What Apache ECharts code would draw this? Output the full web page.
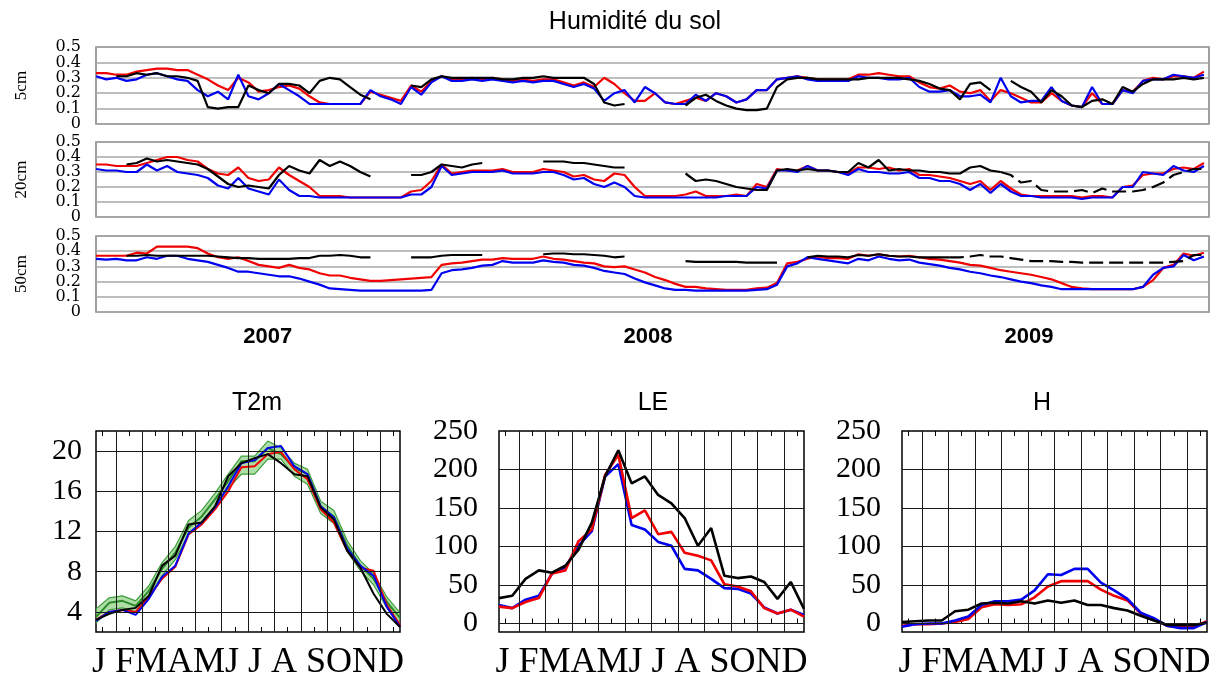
<!DOCTYPE html>
<html>
<head>
<meta charset="utf-8">
<script src="https://cdn.jsdelivr.net/npm/echarts@6/dist/echarts.min.js"></script>
<style>
  html, body { margin: 0; padding: 0; background: #fff; }
  #chart { width: 1221px; height: 682px; }
</style>
</head>
<body>
<div id="chart"></div>
<script>
// ---------- Soil moisture (m3/m3), one sample every 10 days from Jan 2007 ----------
const DAY_STEP = 10;
const DAY_SPAN = 1095;
const depthNames = ['5cm', '20cm', '50cm'];
const moistureLabelsEven = [0, 0.2, 0.4];
const moistureLabelsOdd = [0.1, 0.3, 0.5];
const yearLabels = ['2007', '2008', '2009'];
const yearLabelDays = [169, 543, 918];

const red5 = [
  0.33,0.33,0.32,0.32,0.34,0.35,0.36,0.36,0.35,0.35,
  0.32,0.29,0.25,0.22,0.30,0.27,0.21,0.22,0.24,0.25,
  0.23,0.18,0.14,0.13,0.13,0.13,0.13,0.21,0.19,0.17,
  0.15,0.25,
  0.21,0.28,0.31,0.29,0.29,0.30,0.29,0.30,0.29,0.28,
  0.29,0.28,0.29,0.29,0.27,0.25,0.27,0.24,0.30,0.26,
  0.20,0.15,0.15,0.20,0.14,0.13,0.15,0.17,0.15,0.20,
  0.18,0.14,0.16,0.22,0.22,0.29,0.30,0.31,0.30,
  0.29,0.29,0.29,0.29,0.32,0.32,0.33,0.32,0.31,0.31,
  0.27,0.24,0.23,0.25,0.21,0.20,0.22,0.15,0.22,0.20,
  0.17,0.14,0.14,0.20,0.15,0.12,0.11,0.20,0.13,0.13,
  0.22,0.21,0.28,0.30,0.29,0.31,0.31,0.30,0.34
];
const blue5 = [
  0.31,0.29,0.30,0.28,0.29,0.32,0.33,0.31,0.29,0.28,
  0.22,0.18,0.21,0.16,0.32,0.18,0.16,0.20,0.26,0.22,
  0.18,0.13,0.13,0.13,0.13,0.13,0.13,0.22,0.18,0.16,
  0.13,0.24,
  0.19,0.27,0.31,0.28,0.28,0.29,0.28,0.29,0.28,0.27,
  0.28,0.27,0.28,0.28,0.26,0.24,0.26,0.23,0.15,0.20,
  0.22,0.14,0.24,0.20,0.14,0.13,0.13,0.19,0.15,0.20,
  0.18,0.14,0.16,0.22,0.22,0.29,0.30,0.31,0.29,
  0.28,0.28,0.28,0.28,0.31,0.30,0.30,0.29,0.29,0.30,
  0.24,0.21,0.21,0.22,0.18,0.18,0.19,0.14,0.30,0.18,
  0.14,0.15,0.15,0.24,0.15,0.12,0.11,0.24,0.13,0.13,
  0.22,0.20,0.28,0.29,0.29,0.32,0.31,0.30,0.32
];
const black5 = [
  null,null,0.31,0.31,0.33,0.32,0.33,0.31,0.31,0.30,
  0.28,0.11,0.10,0.11,0.11,0.25,0.22,0.20,0.26,0.26,
  0.25,0.20,0.28,0.30,0.29,0.24,0.19,0.16,null,null,
  null,0.25,
  0.24,0.29,0.31,0.30,0.30,0.30,0.30,0.30,0.29,0.29,
  0.30,0.30,0.31,0.30,0.30,0.30,0.30,0.26,0.14,0.12,
  0.13,null,null,null,null,null,0.12,0.17,0.19,0.15,
  0.12,0.10,0.09,0.09,0.10,0.24,0.29,0.30,0.30,
  0.29,0.29,0.29,0.29,0.29,0.30,0.30,0.30,0.30,0.29,
  0.28,0.26,0.23,0.22,0.16,0.26,0.27,0.22,null,0.28,
  0.24,0.21,0.14,0.22,0.18,0.12,0.11,0.15,0.16,0.13,
  0.24,0.21,0.26,0.29,0.29,0.29,0.30,0.29,0.30
];

const red20 = [
  0.35,0.35,0.34,0.34,0.34,0.36,0.38,0.40,0.40,0.38,
  0.37,0.32,0.29,0.28,0.33,0.26,0.24,0.25,0.33,0.28,
  0.24,0.20,0.14,0.14,0.14,0.13,0.13,0.13,0.13,0.13,
  0.13,0.17,
  0.18,0.24,0.35,0.29,0.30,0.31,0.31,0.31,0.32,0.30,
  0.30,0.30,0.32,0.31,0.30,0.27,0.28,0.25,0.24,0.29,
  0.28,0.20,0.14,0.14,0.14,0.14,0.15,0.17,0.14,0.14,
  0.14,0.15,0.14,0.22,0.20,0.32,0.31,0.31,0.34,
  0.31,0.31,0.30,0.29,0.33,0.33,0.32,0.33,0.31,0.32,
  0.28,0.28,0.27,0.26,0.24,0.22,0.24,0.18,0.24,0.19,
  0.15,0.14,0.14,0.14,0.14,0.14,0.13,0.14,0.14,0.13,
  0.20,0.21,0.28,0.29,0.29,0.32,0.33,0.32,0.36
];
const blue20 = [
  0.32,0.31,0.31,0.30,0.30,0.35,0.31,0.34,0.30,0.29,
  0.28,0.26,0.21,0.19,0.26,0.19,0.17,0.15,0.25,0.18,
  0.14,0.14,0.13,0.13,0.13,0.13,0.13,0.13,0.13,0.13,
  0.13,0.15,
  0.15,0.20,0.34,0.28,0.29,0.30,0.30,0.30,0.31,0.29,
  0.29,0.29,0.30,0.30,0.28,0.25,0.26,0.22,0.20,0.23,
  0.20,0.14,0.13,0.13,0.13,0.13,0.13,0.13,0.13,0.13,
  0.14,0.14,0.14,0.20,0.19,0.31,0.31,0.30,0.34,
  0.31,0.31,0.30,0.28,0.32,0.30,0.30,0.29,0.29,0.30,
  0.26,0.26,0.24,0.24,0.22,0.18,0.22,0.16,0.22,0.17,
  0.14,0.14,0.13,0.13,0.13,0.13,0.12,0.13,0.13,0.13,
  0.20,0.20,0.30,0.29,0.28,0.34,0.31,0.30,0.34
];
const black20 = [
  null,null,null,0.35,0.36,0.39,0.37,0.38,0.37,0.36,
  0.35,0.32,0.27,0.22,0.20,0.21,0.20,0.19,0.28,0.34,
  0.31,0.29,0.38,0.34,0.37,0.34,0.30,0.27,null,null,
  null,0.28,
  0.28,0.30,0.35,0.34,0.33,0.35,0.36,null,null,null,
  null,null,0.37,0.37,0.37,0.36,0.36,0.35,0.34,0.33,
  0.33,null,null,null,null,null,0.29,0.24,0.25,0.24,
  0.22,0.20,0.19,0.18,0.18,0.31,0.32,0.31,0.32,
  0.31,0.31,0.30,0.30,0.36,0.33,0.38,0.31,0.32,0.31,
  0.31,0.30,0.30,0.29,0.29,0.33,0.34,0.31,0.30,0.28,
  0.23,0.24,0.18,0.17,0.17,0.17,0.18,0.16,0.19,0.17,
  0.17,0.17,0.18,0.20,0.23,0.28,0.30,0.32,0.32
];

const red50 = [
  0.37,0.37,0.37,0.37,0.39,0.385,0.43,0.43,0.43,0.43,
  0.42,0.385,0.36,0.35,0.36,0.335,0.31,0.30,0.29,0.31,
  0.29,0.28,0.255,0.24,0.24,0.225,0.215,0.205,0.205,0.21,
  0.215,0.22,
  0.225,0.23,0.31,0.32,0.325,0.335,0.345,0.345,0.355,0.35,
  0.35,0.35,0.365,0.35,0.345,0.335,0.325,0.32,0.30,0.295,
  0.30,0.28,0.26,0.23,0.21,0.185,0.165,0.165,0.155,0.15,
  0.145,0.145,0.145,0.155,0.16,0.19,0.32,0.33,0.35,
  0.365,0.355,0.355,0.35,0.38,0.37,0.38,0.37,0.365,0.37,
  0.36,0.35,0.345,0.335,0.325,0.31,0.305,0.29,0.275,0.265,
  0.255,0.245,0.23,0.215,0.19,0.165,0.155,0.15,0.15,0.15,
  0.15,0.15,0.165,0.21,0.29,0.31,0.385,0.37,0.39
];
const blue50 = [
  0.35,0.345,0.35,0.34,0.34,0.36,0.35,0.37,0.37,0.35,
  0.34,0.33,0.31,0.29,0.265,0.265,0.255,0.245,0.235,0.235,
  0.22,0.20,0.18,0.155,0.15,0.145,0.14,0.14,0.14,0.14,
  0.14,0.14,
  0.14,0.145,0.255,0.275,0.28,0.29,0.305,0.31,0.335,0.325,
  0.325,0.325,0.34,0.33,0.325,0.31,0.305,0.29,0.27,0.26,
  0.25,0.22,0.195,0.175,0.155,0.145,0.145,0.14,0.14,0.14,
  0.14,0.14,0.14,0.145,0.15,0.18,0.30,0.32,0.36,
  0.35,0.34,0.33,0.32,0.35,0.34,0.365,0.35,0.34,0.345,
  0.325,0.315,0.305,0.29,0.28,0.265,0.255,0.24,0.23,0.215,
  0.20,0.19,0.175,0.165,0.15,0.15,0.15,0.15,0.15,0.15,
  0.15,0.15,0.165,0.245,0.29,0.30,0.375,0.34,0.365
];
const black50 = [
  null,null,null,0.37,0.37,0.375,0.37,0.37,0.37,0.37,
  0.37,0.37,0.365,0.36,0.355,0.355,0.35,0.35,0.35,0.35,
  0.355,0.355,0.37,0.37,0.375,0.37,0.36,0.36,null,null,
  null,0.36,
  0.36,0.36,0.37,0.375,0.375,0.375,0.375,null,null,null,
  null,null,0.38,0.385,0.385,0.38,0.38,0.375,0.37,0.36,
  0.365,null,null,null,null,null,0.335,0.33,0.33,0.33,
  0.33,0.33,0.325,0.325,0.325,0.325,null,null,0.36,
  0.37,0.365,0.365,0.36,0.375,0.37,0.38,0.37,0.365,0.365,
  0.36,0.36,0.36,0.36,0.36,0.365,0.375,0.365,0.365,0.355,
  0.345,0.335,0.335,0.335,0.33,0.33,0.325,0.325,0.325,0.325,
  0.325,0.325,0.325,0.325,0.325,0.33,0.335,0.375,0.375
];
// sample index from which the observed series is drawn dashed (2009 records)
const dashFrom = [null, 89, 84];

// ---------- Seasonal cycles, 24 half-month means ----------
const monthLetters = 'J FMAMJ J A SOND';
const monthEdges = [1.5, 3.5, 5.5, 7.5, 9.5, 11.5, 13.5, 15.5, 17.5, 19.5, 21.5];
const midMonthTicks = [0.5, 2.5, 4.5, 6.5, 8.5, 10.5, 12.5, 14.5, 16.5, 18.5, 20.5, 22.5];
const t2mTicks = [4, 8, 12, 16, 20];
const fluxTicks = [0, 50, 100, 150, 200, 250];

const t2mObs  = [3.2,3.8,4.2,4.4,5.6,8.6,9.6,12.7,12.9,14.5,17.5,18.8,19.3,19.7,18.8,17.7,17.5,14.4,13.2,10.1,8.4,5.8,3.8,2.5];
const t2mRed  = [3.2,4.0,4.2,4.0,5.5,7.3,8.5,11.7,12.7,14.2,16.0,18.4,18.5,19.7,19.9,18.2,17.2,14.2,12.9,10.1,8.4,8.1,4.7,2.7];
const t2mBlue = [3.1,4.0,4.2,3.7,5.3,7.5,8.6,11.8,12.9,14.4,16.5,18.8,19.1,20.3,20.5,18.5,17.7,14.5,13.4,10.3,8.6,7.6,4.5,2.5];
const t2mEns  = [3.5,4.9,5.1,4.6,6.1,8.3,9.9,12.4,13.5,15.2,17.0,19.0,19.0,20.3,19.7,18.3,17.7,14.5,13.5,10.6,8.6,7.3,5.0,3.4];
const t2mEnsLow  = [2.9,4.2,4.4,4.0,5.5,7.6,9.2,11.7,12.9,14.5,16.3,17.7,17.7,19.2,19.2,17.5,16.7,13.8,12.8,10.0,8.1,6.7,4.4,2.8];
const t2mEnsHigh = [4.3,5.4,5.6,5.1,6.6,8.9,10.5,13.1,14.1,15.8,17.7,19.5,19.5,21.0,20.3,18.8,18.2,15.0,14.1,11.1,9.1,7.8,5.5,3.9];

const leObs  = [33,36,58,69,66,75,96,131,191,225,182,191,167,156,137,101,124,62,59,61,54,32,54,19];
const leRed  = [22,20,28,33,65,69,107,122,193,219,137,147,116,119,92,88,82,51,48,42,20,13,18,9];
const leBlue = [24,20,31,36,65,73,101,120,191,207,128,122,106,101,71,69,58,46,45,39,21,13,18,11];

const hObs  = [2,3,4,4,16,18,26,27,26,29,26,30,27,30,24,24,20,17,10,4,-2,-2,-2,1];
const hRed  = [-3,-1,-1,0,2,6,21,25,24,25,34,48,55,55,55,44,36,30,13,6,-3,-5,-4,3];
const hBlue = [-4,-1,0,0,4,9,24,29,29,31,43,64,63,71,71,53,43,32,14,7,-3,-6,-6,2];

// ---------- helpers ----------
const RED = '#f00000', BLUE = '#0000f0', BLACK = '#000000';
const byDay = arr => arr.map((v, i) => [i * DAY_STEP, v]);
const byHalfMonth = arr => arr.map((v, i) => [i, v]);
const keepBefore = (arr, k) => arr.map((v, i) => (i <= k ? v : null));
const keepFrom = (arr, k) => arr.map((v, i) => (i >= k ? v : null));

function lineSeries(name, data, color, width, axis, extra) {
  return Object.assign({
    name, type: 'line', data, xAxisIndex: axis, yAxisIndex: axis,
    showSymbol: false, symbol: 'none', connectNulls: false,
    lineStyle: { color, width }, itemStyle: { color },
    silent: true, animation: false
  }, extra || {});
}

// ---------- layout ----------
const topGrids = [
  { left: 96, right: 12, top: 47, height: 77 },
  { left: 96, right: 12, top: 142, height: 75 },
  { left: 96, right: 12, top: 236, height: 76 }
];
const bottomGrids = [
  { left: 96, width: 304, top: 431, height: 202 },
  { left: 499, width: 305, top: 431, height: 202 },
  { left: 902, width: 305, top: 431, height: 202 }
];
const grids = [
  ...topGrids.map(g => Object.assign({ show: true, borderColor: '#808080', borderWidth: 1.5, backgroundColor: 'transparent' }, g)),
  ...bottomGrids.map(g => Object.assign({ show: true, borderColor: '#000', borderWidth: 1.5, backgroundColor: 'transparent' }, g))
];

const moistLabelStyle = { fontFamily: 'DejaVu Serif', fontSize: 16, color: '#000', margin: 15 };

const xAxes = [];
const yAxes = [];
topGrids.forEach((g, i) => {
  xAxes.push({
    gridIndex: i, type: 'value', min: 0, max: DAY_SPAN,
    axisLine: { show: false }, axisTick: { show: false }, splitLine: { show: false },
    axisLabel: i === 2 ? {
      show: true, customValues: yearLabelDays, margin: 14,
      formatter: v => yearLabels[yearLabelDays.indexOf(v)],
      fontFamily: 'Liberation Sans', fontWeight: 'bold', fontSize: 22, color: '#000'
    } : { show: false }
  });
  yAxes.push({
    gridIndex: i, type: 'value', min: 0, max: 0.5, interval: 0.1,
    axisLine: { show: false }, axisTick: { show: false },
    axisLabel: Object.assign({ customValues: moistureLabelsEven }, moistLabelStyle),
    splitLine: { show: true, lineStyle: { color: '#a8a8a8', width: 1.5 } },
    name: depthNames[i], nameLocation: 'middle', nameRotate: 90, nameGap: 66,
    nameTextStyle: { fontFamily: 'Liberation Serif', fontSize: 17, color: '#000' }
  });
});
bottomGrids.forEach((g, j) => {
  xAxes.push({
    gridIndex: 3 + j, type: 'value', min: 0, max: 23,
    axisLine: { show: false },
    axisTick: { show: true, inside: true, length: 5, customValues: midMonthTicks, lineStyle: { color: '#000', width: 1 } },
    axisLabel: { show: false }, splitLine: { show: false },
    name: monthLetters, nameLocation: 'middle', nameGap: 13,
    nameTextStyle: { fontFamily: 'Liberation Serif', fontSize: 36, color: '#000', verticalAlign: 'top' }
  });
  const isT = j === 0;
  yAxes.push({
    gridIndex: 3 + j, type: 'value', min: isT ? 2 : -11, max: isT ? 22 : 250,
    axisLine: { show: false }, axisTick: { show: false }, splitLine: { show: false },
    axisLabel: {
      customValues: isT ? t2mTicks : fluxTicks, margin: isT ? 14 : 21,
      fontFamily: 'Liberation Serif', fontSize: 30, color: '#000'
    }
  });
});
bottomGrids.forEach((g, j) => {
  xAxes.push({
    gridIndex: 3 + j, type: 'value', min: 0, max: 23, position: 'top',
    axisLine: { show: false },
    axisTick: { show: true, inside: true, length: 5, customValues: midMonthTicks, lineStyle: { color: '#000', width: 1 } },
    axisLabel: { show: false }, splitLine: { show: false }
  });
});
// second label axis per moisture panel carrying the odd tenths
topGrids.forEach((g, i) => {
  yAxes.push({
    gridIndex: i, type: 'value', min: 0, max: 0.5, interval: 0.1, position: 'left',
    axisLine: { show: false }, axisTick: { show: false }, splitLine: { show: false },
    axisLabel: Object.assign({ customValues: moistureLabelsOdd }, moistLabelStyle)
  });
});

// ---------- series ----------
const series = [];
const depthData = [
  [red5, blue5, black5],
  [red20, blue20, black20],
  [red50, blue50, black50]
];
depthData.forEach(([r, b, k], i) => {
  series.push(lineSeries('modèle A ' + depthNames[i], byDay(r), RED, 2.2, i));
  series.push(lineSeries('modèle B ' + depthNames[i], byDay(b), BLUE, 2.2, i));
  if (dashFrom[i] === null) {
    series.push(lineSeries('obs ' + depthNames[i], byDay(k), BLACK, 2.2, i));
  } else {
    series.push(lineSeries('obs ' + depthNames[i], byDay(keepBefore(k, dashFrom[i])), BLACK, 2.2, i));
    series.push(lineSeries('obs ' + depthNames[i] + ' (2009)', byDay(keepFrom(k, dashFrom[i])), BLACK, 2.2, i,
      { lineStyle: { color: BLACK, width: 2.2, type: [14, 6] } }));
  }
});

function gridLines(yTicks) {
  return {
    silent: true, symbol: 'none', animation: false,
    label: { show: false },
    lineStyle: { color: '#1a1a1a', width: 1, type: 'solid' },
    data: [...monthEdges.map(x => ({ xAxis: x })), ...yTicks.map(y => ({ yAxis: y }))]
  };
}

// T2m: ensemble spread band drawn as one polygon through the axis scales
series.push({
  name: 'enveloppe', type: 'custom', xAxisIndex: 3, yAxisIndex: 3,
  data: [[0, t2mEnsLow[0]]], silent: true, animation: false, z: 1,
  renderItem: (params, api) => {
    const pts = [];
    t2mEnsHigh.forEach((v, i) => pts.push(api.coord([i, v])));
    for (let i = t2mEnsLow.length - 1; i >= 0; i--) pts.push(api.coord([i, t2mEnsLow[i]]));
    return { type: 'polygon', shape: { points: pts }, style: { fill: 'rgba(120,200,105,0.6)', stroke: null } };
  },
  markLine: gridLines(t2mTicks)
});
series.push(lineSeries('enveloppe min', byHalfMonth(t2mEnsLow), '#3f9f3f', 1.2, 3));
series.push(lineSeries('enveloppe max', byHalfMonth(t2mEnsHigh), '#3f9f3f', 1.2, 3));
series.push(lineSeries('ensemble', byHalfMonth(t2mEns), '#2a8a2a', 2, 3));
series.push(lineSeries('modèle A T2m', byHalfMonth(t2mRed), RED, 2, 3));
series.push(lineSeries('modèle B T2m', byHalfMonth(t2mBlue), BLUE, 2, 3));
series.push(lineSeries('obs T2m', byHalfMonth(t2mObs), BLACK, 2, 3));

// LE
series.push(lineSeries('modèle B LE', byHalfMonth(leBlue), BLUE, 2.6, 4, { markLine: gridLines(fluxTicks.slice(0, 5)) }));
series.push(lineSeries('modèle A LE', byHalfMonth(leRed), RED, 2.6, 4));
series.push(lineSeries('obs LE', byHalfMonth(leObs), BLACK, 2.6, 4));

// H
series.push(lineSeries('modèle A H', byHalfMonth(hRed), RED, 2.6, 5, { markLine: gridLines(fluxTicks.slice(0, 5)) }));
series.push(lineSeries('modèle B H', byHalfMonth(hBlue), BLUE, 2.6, 5));
series.push(lineSeries('obs H', byHalfMonth(hObs), BLACK, 2.6, 5));

// ---------- titles ----------
const titleStyle = { fill: '#000', fontFamily: 'Liberation Sans', fontSize: 25, align: 'center', verticalAlign: 'middle' };
const titles = [
  { text: 'Humidité du sol', x: 635, y: 22 },
  { text: 'T2m', x: 257, y: 403 },
  { text: 'LE', x: 653, y: 403 },
  { text: 'H', x: 1042, y: 403 }
];

const chart = echarts.init(document.getElementById('chart'));
chart.setOption({
  animation: false,
  backgroundColor: '#fff',
  grid: grids,
  xAxis: xAxes,
  yAxis: yAxes,
  series,
  graphic: titles.map(t => ({
    type: 'text', x: t.x, y: t.y, silent: true,
    style: Object.assign({ text: t.text }, titleStyle)
  }))
});
</script>
</body>
</html>
